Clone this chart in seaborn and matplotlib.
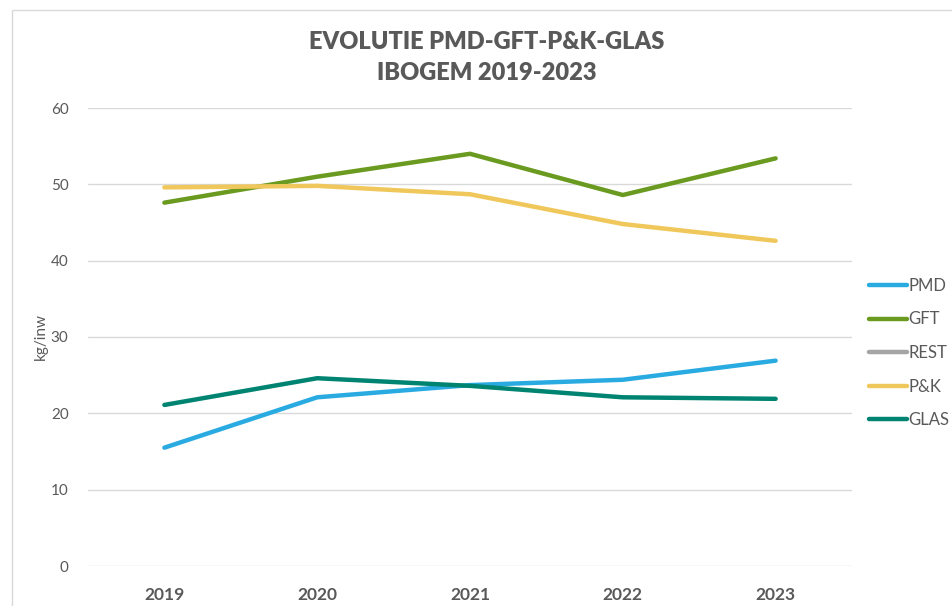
import numpy as np
import pandas as pd
import seaborn as sns
import matplotlib.pyplot as plt
from matplotlib.lines import Line2D
from matplotlib.patches import Rectangle

# data
years = ['2019', '2020', '2021', '2022', '2023']
pmd = [15.5, 22.1, 23.7, 24.4, 26.9]
gft = [47.6, 51.0, 54.0, 48.6, 53.4]
rest = [np.nan, np.nan, np.nan, np.nan, np.nan]
pk = [49.6, 49.8, 48.7, 44.8, 42.6]
glas = [21.1, 24.6, 23.6, 22.1, 21.9]

series = ['PMD', 'GFT', 'REST', 'P&K', 'GLAS']
colors = {'PMD': '#29abe2', 'GFT': '#6a9a1f', 'REST': '#a5a5a5',
          'P&K': '#f0c75a', 'GLAS': '#008472'}

df = pd.DataFrame({'jaar': years * 5,
                   'soort': np.repeat(series, 5),
                   'kg': pmd + gft + rest + pk + glas})
df['x'] = df['jaar'].map({y: i for i, y in enumerate(years)})

sns.set_style('white')
plt.rcParams['font.family'] = ['Lato', 'DejaVu Sans']

fig = plt.figure(figsize=(9.52, 6.06), dpi=100)
fig.patches.append(Rectangle((12 / 952, -0.01), 1.0, 1 - 10 / 606 + 0.01,
                             transform=fig.transFigure, fill=False,
                             edgecolor='#d9d9d9', lw=1.0))
ax = fig.add_axes([88 / 952, 1 - 566 / 606, 764 / 952, 458 / 606])

sns.lineplot(data=df.dropna(), x='x', y='kg', hue='soort', palette=colors,
             linewidth=3.2, legend=False, ax=ax, solid_capstyle='round')

ax.set_xlim(-0.5, 4.5)
ax.set_ylim(0, 60)
ax.set_yticks(range(0, 61, 10))
ax.set_xticks(range(5))
ax.set_xticklabels(years, fontsize=12.5, fontweight='bold', color='#595959')
ax.tick_params(axis='y', labelsize=11, colors='#595959', length=0, pad=14)
ax.tick_params(axis='x', length=0, pad=15)
ax.yaxis.grid(True, color='#d9d9d9', lw=1)
for s in ax.spines.values():
    s.set_visible(False)
ax.set_xlabel('')
ax.set_ylabel('kg/inw', fontsize=11, color='#595959', labelpad=2)

fig.text(487 / 952, 1 - 42 / 606, 'EVOLUTIE PMD-GFT-P&K-GLAS', ha='center',
         va='center', fontsize=17, fontweight='heavy', color='#595959')
fig.text(487 / 952, 1 - 73 / 606, 'IBOGEM 2019-2023', ha='center',
         va='center', fontsize=17, fontweight='heavy', color='#595959')

handles = [Line2D([0], [0], color=colors[s], lw=3.2, solid_capstyle='round')
           for s in series]
leg = fig.legend(handles, series, loc='center left',
                 bbox_to_anchor=(862 / 952, 1 - 353 / 606), frameon=False,
                 fontsize=12, handlelength=2.3, handletextpad=0.1,
                 labelspacing=1.05, borderaxespad=0)
for t in leg.get_texts():
    t.set_color('#595959')

fig.savefig('out.png', dpi=100)
